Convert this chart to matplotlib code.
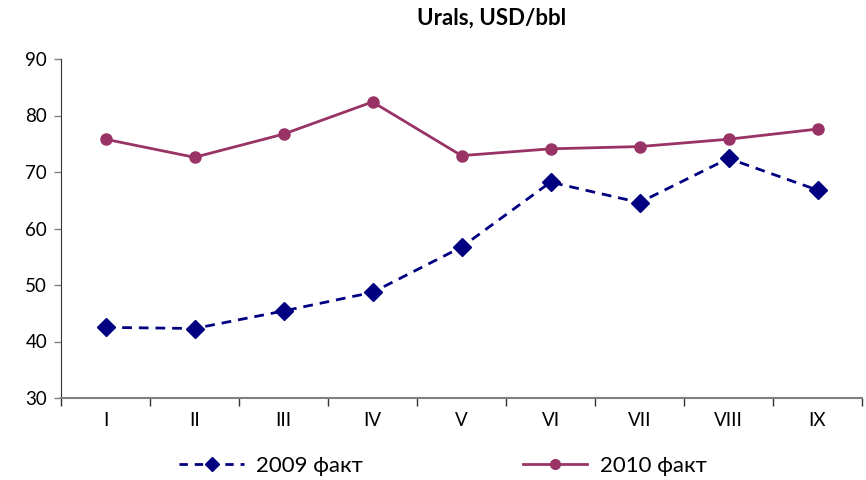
import matplotlib.pyplot as plt
from matplotlib.ticker import FixedLocator, NullFormatter
from matplotlib.lines import Line2D

plt.rcParams['font.family'] = ['Lato', 'Noto Sans', 'DejaVu Sans']

# data
months = ['I', 'II', 'III', 'IV', 'V', 'VI', 'VII', 'VIII', 'IX']
fact_2009 = [42.5, 42.3, 45.4, 48.7, 56.7, 68.2, 64.6, 72.4, 66.8]
fact_2010 = [75.8, 72.6, 76.7, 82.4, 72.9, 74.1, 74.5, 75.8, 77.6]

c2009 = '#000080'
c2010 = '#993366'

fig = plt.figure(figsize=(8.66, 4.8), dpi=100)
ax = fig.add_axes([61 / 866, 1 - 398 / 480, 801 / 866, 339 / 480])

x = range(len(months))
ax.plot(x, fact_2009, color=c2009, linestyle=(0, (3.5, 2.5)), linewidth=2,
        marker='D', markersize=9, label='2009 факт')
ax.plot(x, fact_2010, color=c2010, linewidth=2,
        marker='o', markersize=8, label='2010 факт')

ax.set_xlim(-0.5, len(months) - 0.5)
ax.set_ylim(30, 90)
ax.set_yticks(range(30, 91, 10))

# category ticks between months, labels centred
ax.xaxis.set_major_locator(FixedLocator([i - 0.5 for i in range(len(months) + 1)]))
ax.xaxis.set_major_formatter(NullFormatter())
ax.xaxis.set_minor_locator(FixedLocator(list(x)))
ax.set_xticklabels(months, minor=True)
ax.tick_params(axis='x', which='minor', length=0, pad=10, labelsize=13.5)
ax.tick_params(axis='x', which='major', length=6, width=1, color='#333333')
ax.tick_params(axis='y', length=5, width=1, color='#808080', labelsize=13.5, pad=5)

for side in ['top', 'right']:
    ax.spines[side].set_visible(False)
ax.spines['left'].set_color('#333333')
ax.spines['bottom'].set_color('#808080')
ax.spines['bottom'].set_linewidth(1.5)

fig.text(492 / 866, 1 - 18 / 480, 'Urals, USD/bbl', ha='center', va='center',
         fontsize=16, fontweight='bold')

handles = [
    Line2D([], [], color=c2009, linestyle=(0, (3, 2.5)), linewidth=2, marker='D', markersize=7),
    Line2D([], [], color=c2010, linewidth=2, marker='o', markersize=7),
]
fig.legend(handles, ['2009 факт', '2010 факт'], loc='center', bbox_to_anchor=(443 / 866, 1 - 466 / 480),
           ncol=2, frameon=False, fontsize=16, handlelength=2.9, handletextpad=0.55,
           columnspacing=7.2)

fig.savefig('out.png', dpi=100)
